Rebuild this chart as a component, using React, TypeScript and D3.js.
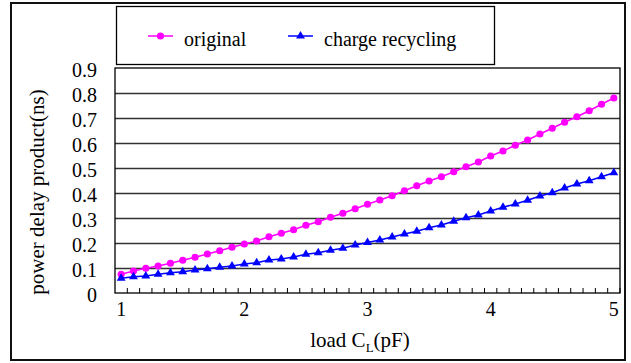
import React, { useEffect, useRef } from "react";
import * as d3 from "d3";

// load C_L (pF), one category per point
const loads = [
	"1.0", "1.1", "1.2", "1.3", "1.4", "1.5", "1.6", "1.7", "1.8", "1.9",
	"2.0", "2.1", "2.2", "2.3", "2.4", "2.5", "2.6", "2.7", "2.8", "2.9",
	"3.0", "3.1", "3.2", "3.3", "3.4", "3.5", "3.6", "3.7", "3.8", "3.9",
	"4.0", "4.1", "4.2", "4.3", "4.4", "4.5", "4.6", "4.7", "4.8", "4.9",
	"5.0",
];
const original = [
	0.075, 0.088, 0.099, 0.108, 0.119, 0.131, 0.143, 0.156, 0.169, 0.183,
	0.196, 0.208, 0.225, 0.239, 0.253, 0.271, 0.285, 0.303, 0.319, 0.337,
	0.355, 0.372, 0.389, 0.409, 0.429, 0.448, 0.465, 0.485, 0.505, 0.524,
	0.548, 0.568, 0.591, 0.612, 0.636, 0.659, 0.683, 0.705, 0.729, 0.755,
	0.78,
];
const chargeRecycling = [
	0.059, 0.065, 0.068, 0.075, 0.081, 0.085, 0.092, 0.097, 0.103, 0.108,
	0.116, 0.121, 0.132, 0.136, 0.144, 0.155, 0.161, 0.171, 0.179, 0.192,
	0.202, 0.212, 0.224, 0.236, 0.247, 0.261, 0.272, 0.287, 0.301, 0.312,
	0.328, 0.343, 0.356, 0.371, 0.388, 0.401, 0.42, 0.436, 0.449, 0.465,
	0.481,
];
const xTickCats = ["1.0", "2.0", "3.0", "4.0", "5.0"];
const xTickLabels = ["1", "2", "3", "4", "5"];
const yTicks = [0, 0.1, 0.2, 0.3, 0.4, 0.5, 0.6, 0.7, 0.8, 0.9];
const yTickLabels = ["0", "0.1", "0.2", "0.3", "0.4", "0.5", "0.6", "0.7", "0.8", "0.9"];

const FONT = "Liberation Serif";
const PINK = "#ff00ff";
const BLUE = "#0000ff";

function draw(ref: SVGSVGElement) {
	const width = 631;
	const height = 363;
	const svg = d3
		.select(ref)
		.attr("width", width)
		.attr("height", height)
		.style("font-family", FONT);
	svg.selectAll("*").remove();

	const left = 115;
	const right = 620;
	const top = 68;
	const bottom = 293;

	// outer frame
	svg
		.append("rect")
		.attr("x", 11)
		.attr("y", 3)
		.attr("width", 614)
		.attr("height", 357)
		.attr("fill", "white")
		.attr("stroke", "#111")
		.attr("stroke-width", 2);

	const x = d3.scalePoint<string>().domain(loads).range([left, right]).padding(0.5);
	const step = x.step();
	const y = d3.scaleLinear().domain([0, 0.9]).range([bottom, top]);

	// gridlines
	svg
		.selectAll("line.grid")
		.data(yTicks.filter((d) => d > 0 && d < 0.9))
		.enter()
		.append("line")
		.attr("x1", left)
		.attr("x2", right)
		.attr("y1", (d) => Math.round(y(d)) + 0.5)
		.attr("y2", (d) => Math.round(y(d)) + 0.5)
		.attr("stroke", "#333")
		.attr("stroke-width", 1.3);

	// plot frame
	svg
		.append("rect")
		.attr("x", left)
		.attr("y", top)
		.attr("width", right - left)
		.attr("height", bottom - top)
		.attr("fill", "none")
		.attr("stroke", "#000")
		.attr("stroke-width", 1.3);

	// category boundary ticks on x axis
	svg
		.selectAll("line.xtick")
		.data(loads)
		.enter()
		.append("line")
		.attr("x1", (d) => (x(d) as number) + step / 2)
		.attr("x2", (d) => (x(d) as number) + step / 2)
		.attr("y1", bottom)
		.attr("y2", bottom - 5)
		.attr("stroke", "#000")
		.attr("stroke-width", 1);

	// y labels
	svg
		.selectAll("text.ylab")
		.data(yTicks)
		.enter()
		.append("text")
		.attr("x", 97)
		.attr("y", (d) => y(d) + 9)
		.attr("text-anchor", "end")
		.attr("font-family", FONT)
		.attr("font-size", 20)
		.text((d, i) => yTickLabels[i]);

	// x labels
	svg
		.selectAll("text.xlab")
		.data(xTickCats)
		.enter()
		.append("text")
		.attr("x", (d) => x(d) as number)
		.attr("y", 316)
		.attr("text-anchor", "middle")
		.attr("font-family", FONT)
		.attr("font-size", 20)
		.text((d, i) => xTickLabels[i]);

	// axis titles
	const xt = svg
		.append("text")
		.attr("x", 360)
		.attr("y", 347)
		.attr("text-anchor", "middle")
		.attr("font-family", FONT)
		.attr("font-size", 21);
	xt.append("tspan").text("load C");
	xt.append("tspan").attr("font-size", 13).attr("dy", 5).text("L");
	xt.append("tspan").attr("dy", -5).text("(pF)");

	svg
		.append("text")
		.attr("transform", "translate(44,192) rotate(-90)")
		.attr("text-anchor", "middle")
		.attr("font-family", FONT)
		.attr("font-size", 21)
		.text("power delay product(ns)");

	const line = d3
		.line<number>()
		.x((d, i) => x(loads[i]) as number)
		.y((d) => y(d));

	const series = [
		{ name: "original", values: original, color: PINK, symbol: d3.symbolCircle, size: 40 },
		{ name: "charge recycling", values: chargeRecycling, color: BLUE, symbol: d3.symbolTriangle, size: 34 },
	];

	series.forEach((s) => {
		svg
			.append("path")
			.attr("d", line(s.values))
			.attr("fill", "none")
			.attr("stroke", s.color)
			.attr("stroke-width", 1.5);
		const sym = d3.symbol().type(s.symbol).size(s.size);
		svg
			.selectAll(null)
			.data(s.values)
			.enter()
			.append("path")
			.attr("d", sym)
			.attr("transform", (d, i) => `translate(${x(loads[i])},${y(d)})`)
			.attr("fill", s.color);
	});

	// legend
	svg
		.append("rect")
		.attr("x", 116.5)
		.attr("y", 6.5)
		.attr("width", 378)
		.attr("height", 58)
		.attr("fill", "white")
		.attr("stroke", "#000")
		.attr("stroke-width", 1.3);

	const legendX = [148, 288];
	series.forEach((s, i) => {
		const lx = legendX[i];
		svg
			.append("line")
			.attr("x1", lx)
			.attr("x2", lx + 25)
			.attr("y1", 36)
			.attr("y2", 36)
			.attr("stroke", s.color)
			.attr("stroke-width", 1.5);
		svg
			.append("path")
			.attr("d", d3.symbol().type(s.symbol).size(s.size)())
			.attr("transform", `translate(${lx + 12.5},36)`)
			.attr("fill", s.color);
		svg
			.append("text")
			.attr("x", lx + 36)
			.attr("y", 46)
			.attr("font-family", FONT)
			.attr("font-size", 20)
			.text(s.name);
	});
}

export default function App() {
	const ref = useRef<SVGSVGElement>(null);
	useEffect(() => {
		if (!ref.current) return;
		draw(ref.current);
	}, []);
	return <svg ref={ref} style={{ position: "absolute", left: 0, top: 0, display: "block" }} />;
}
